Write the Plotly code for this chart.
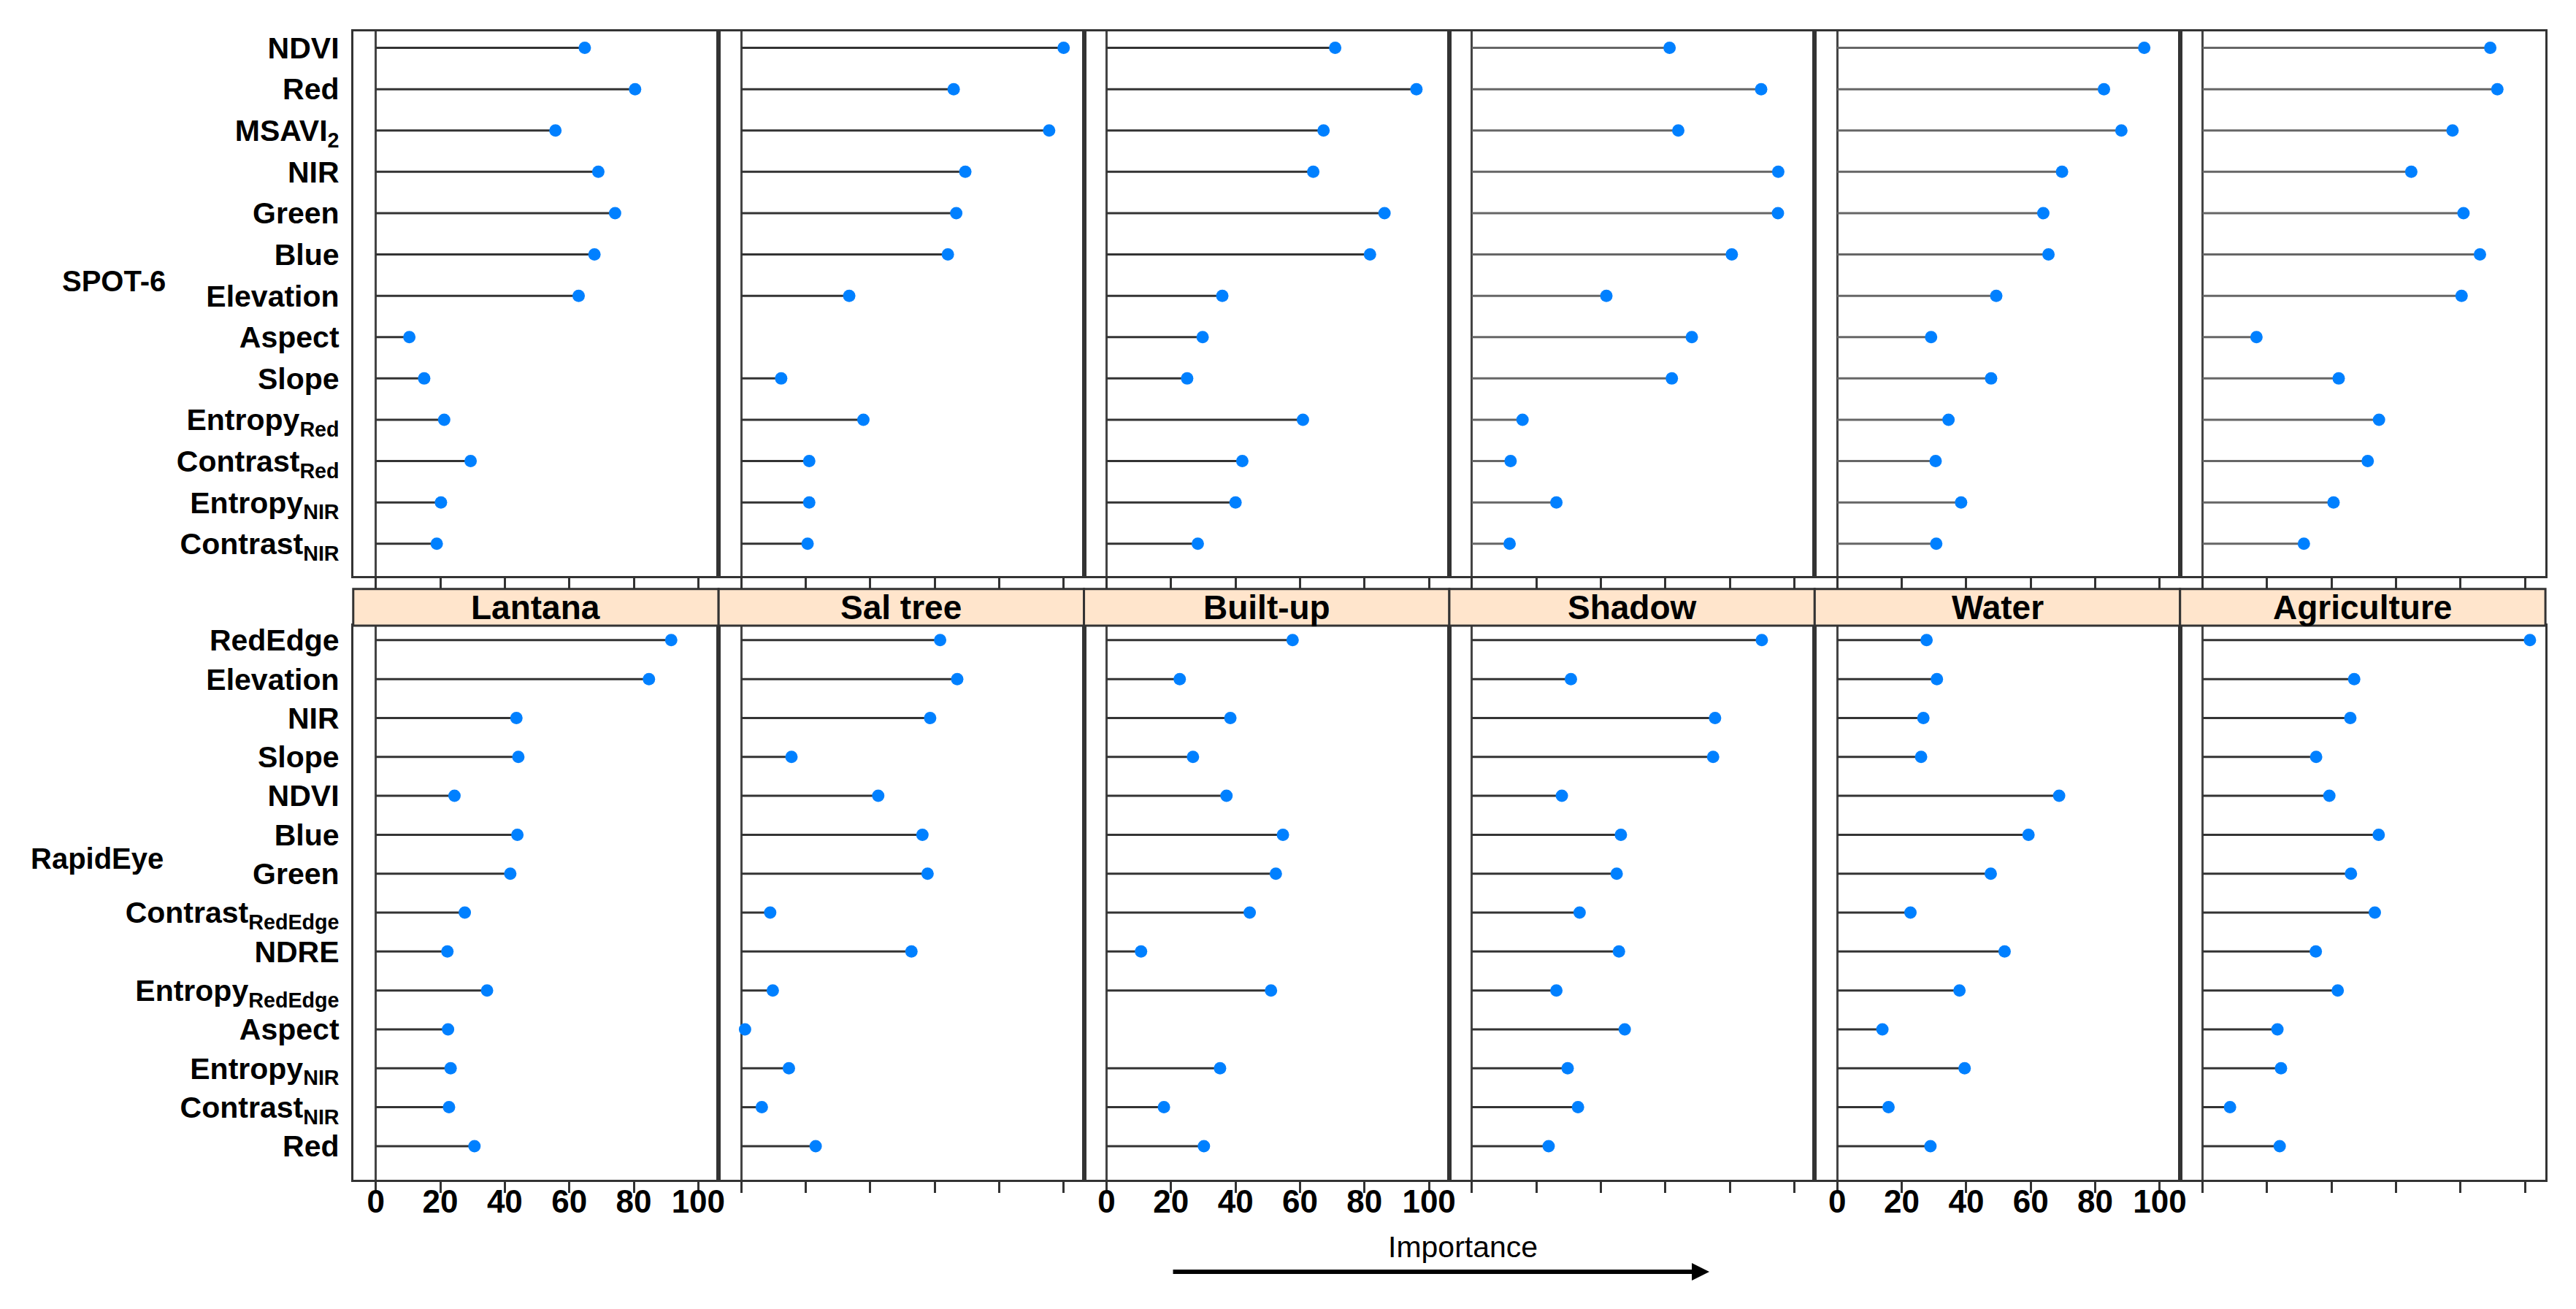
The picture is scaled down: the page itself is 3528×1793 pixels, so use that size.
import plotly.graph_objects as go

# ---------------- data ----------------
classes = ["Lantana", "Sal tree", "Built-up", "Shadow", "Water", "Agriculture"]

spot6_features = ["NDVI", "Red", "MSAVI<sub>2</sub>", "NIR", "Green", "Blue", "Elevation",
                  "Aspect", "Slope", "Entropy<sub>Red</sub>", "Contrast<sub>Red</sub>",
                  "Entropy<sub>NIR</sub>", "Contrast<sub>NIR</sub>"]

spot6_lantana = [64.8, 80.4, 55.7, 69.0, 74.2, 67.8, 62.9, 10.4, 15.0, 21.2, 29.4, 20.2, 18.9]
spot6_saltree = [100.0, 65.9, 95.5, 69.5, 66.7, 64.1, 33.5, None, 12.4, 37.9, 21.1, 21.1, 20.6]
spot6_builtup = [70.9, 96.1, 67.3, 64.1, 86.2, 81.7, 35.9, 29.8, 25.0, 60.9, 42.1, 40.0, 28.3]
spot6_shadow = [61.3, 89.7, 64.0, 95.0, 94.9, 80.6, 41.7, 68.2, 62.0, 15.7, 12.0, 26.2, 11.7]
spot6_water = [95.2, 82.7, 88.1, 69.7, 63.9, 65.5, 49.3, 29.1, 47.7, 34.5, 30.5, 38.4, 30.7]
spot6_agriculture = [89.2, 91.4, 77.5, 64.7, 80.9, 86.0, 80.3, 16.7, 42.2, 54.7, 51.2, 40.6, 31.4]

rapideye_features = ["RedEdge", "Elevation", "NIR", "Slope", "NDVI", "Blue", "Green",
                     "Contrast<sub>RedEdge</sub>", "NDRE", "Entropy<sub>RedEdge</sub>", "Aspect",
                     "Entropy<sub>NIR</sub>", "Contrast<sub>NIR</sub>", "Red"]

rapideye_lantana = [91.6, 84.7, 43.6, 44.2, 24.4, 43.9, 41.7, 27.6, 22.2, 34.5, 22.4, 23.2, 22.7, 30.6]
rapideye_saltree = [61.7, 67.0, 58.6, 15.6, 42.5, 56.2, 57.8, 9.0, 52.8, 9.8, 1.2, 14.8, 6.4, 23.1]
rapideye_builtup = [57.7, 22.7, 38.4, 26.8, 37.2, 54.7, 52.5, 44.4, 10.7, 51.0, None, 35.2, 17.8, 30.2]
rapideye_shadow = [89.9, 30.7, 75.4, 74.8, 27.9, 46.2, 44.9, 33.4, 45.6, 26.2, 47.4, 29.7, 32.9, 23.8]
rapideye_water = [27.7, 30.9, 26.7, 26.0, 68.8, 59.3, 47.6, 22.7, 51.9, 37.9, 14.0, 39.5, 15.9, 28.9]
rapideye_agriculture = [101.5, 47.0, 45.8, 35.2, 39.3, 54.6, 46.0, 53.4, 35.1, 41.9, 23.2, 24.3, 8.5, 23.9]

x_ticks = [0, 20, 40, 60, 80, 100]
sensors = ["SPOT-6", "RapidEye"]
axis_title = "Importance"

spot6_values = [spot6_lantana, spot6_saltree, spot6_builtup, spot6_shadow, spot6_water, spot6_agriculture]
rapideye_values = [rapideye_lantana, rapideye_saltree, rapideye_builtup, rapideye_shadow,
                   rapideye_water, rapideye_agriculture]

# ---------------- layout geometry (pixels) ----------------
W, H = 3528, 1793
FONT = "Arial, Liberation Sans, sans-serif"
left0, right_end = 477, 3487
colw = (right_end - left0) / 6.0
top_row = (31.6, 779.0)
strip_row = (797.0, 847.5)
bot_row = (847.5, 1608.0)
DOT = "#0080ff"
BORDER = "#333333"


def fx(p):
    return p / W


def fy(p):
    return 1 - p / H


fig = go.Figure()
layout = dict(
    width=W, height=H, margin=dict(l=0, r=0, t=0, b=0),
    paper_bgcolor="white", plot_bgcolor="white", showlegend=False,
    font=dict(family=FONT, color="black"),
)

rows = [(spot6_features, spot6_values, top_row, 56.7, 0.406),
        (rapideye_features, rapideye_values, bot_row, 53.4, 0.371)]

for r, (feats, vals_list, (ytop, ybot), unit, pad_top) in enumerate(rows):
    n = len(feats)
    ypos = list(range(1, n + 1))
    total_units = (ybot - ytop) / unit
    yr = [1 - pad_top + total_units, 1 - pad_top]
    for c in range(6):
        idx = r * 6 + c + 1
        xl = left0 + c * colw
        xr = xl + colw
        vals = vals_list[c]
        stem_color = "#333333" if (r == 1 or c < 3) else "#666666"
        lx, ly, mx, my = [], [], [], []
        for yi, v in zip(ypos, vals):
            if v is None:
                continue
            lx += [0, v, None]
            ly += [yi, yi, None]
            mx.append(v)
            my.append(yi)
        sfx = "" if idx == 1 else str(idx)
        fig.add_trace(go.Scatter(x=lx, y=ly, mode="lines", xaxis="x" + sfx, yaxis="y" + sfx,
                                 line=dict(color=stem_color, width=3), hoverinfo="skip"))
        fig.add_trace(go.Scatter(x=mx, y=my, mode="markers", xaxis="x" + sfx, yaxis="y" + sfx,
                                 marker=dict(color=DOT, size=17, line=dict(width=0))))
        show_x_labels = (r == 1 and c % 2 == 0)
        layout["xaxis" + sfx] = dict(
            domain=[fx(xl), fx(xr)], anchor="y" + sfx, range=[-7.0, 106.3],
            tickvals=x_ticks, ticks="outside", ticklen=17 if r == 0 else 15, tickwidth=2.5,
            tickcolor=BORDER, showticklabels=show_x_labels, ticklabelstandoff=-26,
            tickfont=dict(family=FONT, size=44, color="black", weight="bold"),
            showline=True, mirror=True, linecolor=BORDER, linewidth=3,
            zeroline=True, zerolinecolor="#444444", zerolinewidth=3, showgrid=False,
        )
        layout["yaxis" + sfx] = dict(
            domain=[fy(ybot), fy(ytop)], anchor="x" + sfx, range=yr,
            tickvals=ypos, ticktext=feats, showticklabels=(c == 0), ticks="",
            ticklabelstandoff=8,
            tickfont=dict(family=FONT, size=41, color="black", weight="bold"),
            showline=True, mirror=True, linecolor=BORDER, linewidth=3,
            zeroline=False, showgrid=False,
        )

shapes = []
annotations = []
for c, name in enumerate(classes):
    xl = left0 + c * colw
    xr = xl + colw
    shapes.append(dict(type="rect", xref="paper", yref="paper", x0=fx(xl), x1=fx(xr),
                       y0=fy(strip_row[1]), y1=fy(strip_row[0]), fillcolor="#ffe5cc",
                       line=dict(color=BORDER, width=3), layer="above"))
    annotations.append(dict(text=name, xref="paper", yref="paper", x=fx((xl + xr) / 2),
                            y=fy((strip_row[0] + strip_row[1]) / 2), showarrow=False,
                            xanchor="center", yanchor="middle",
                            font=dict(family=FONT, size=46, color="black", weight="bold")))

annotations.append(dict(text=sensors[0], xref="paper", yref="paper", x=fx(75), y=fy(375),
                        showarrow=False, xanchor="left", yanchor="middle",
                        font=dict(family=FONT, size=40, color="black", weight="bold")))
annotations.append(dict(text=sensors[1], xref="paper", yref="paper", x=fx(32), y=fy(1167),
                        showarrow=False, xanchor="left", yanchor="middle",
                        font=dict(family=FONT, size=40, color="black", weight="bold")))
annotations.append(dict(text=axis_title, xref="paper", yref="paper", x=fx(2001), y=fy(1700),
                        showarrow=False, xanchor="center", yanchor="middle",
                        font=dict(family=FONT, size=41, color="black")))
annotations.append(dict(text="", xref="paper", yref="paper", x=fx(2339), y=fy(1734),
                        ax=-(2339 - 1603), ay=0, axref="pixel", ayref="pixel",
                        showarrow=True, arrowhead=2, arrowsize=0.8, arrowwidth=6,
                        arrowcolor="black"))

layout["shapes"] = shapes
layout["annotations"] = annotations
fig.update_layout(**layout)
fig.write_html("out.html")
